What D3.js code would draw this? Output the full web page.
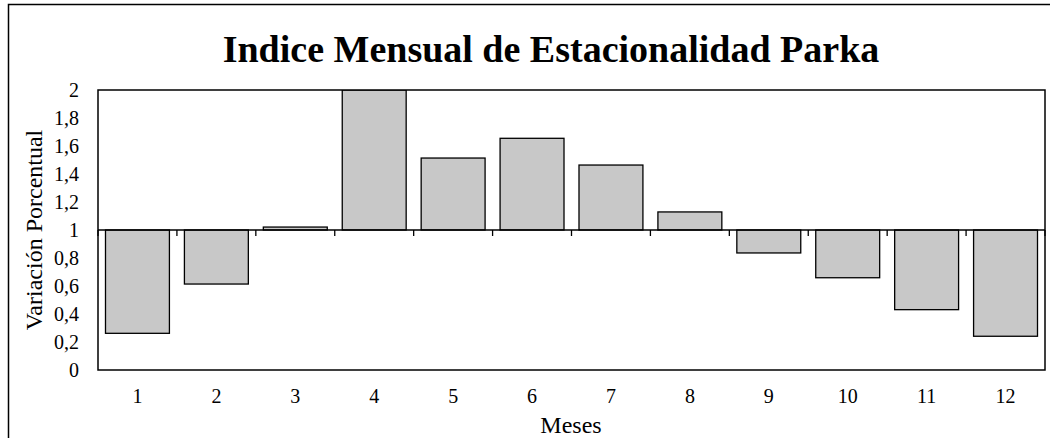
<!DOCTYPE html>
<meta charset="utf-8">
<head>
    <script src="https://d3js.org/d3.v7.min.js"></script>
    <style>
        body { margin: 0; background: #fff; }
        text { font-family: "Liberation Serif", "Times New Roman", serif; fill: #000; }
    </style>
</head>
<body>
<div id="my_dataviz"></div>
</body>

<script>

    // data
    var months = ["1", "2", "3", "4", "5", "6", "7", "8", "9", "10", "11", "12"];
    var indexValues = [0.262, 0.614, 1.021, 2.0, 1.514, 1.655, 1.464, 1.129, 0.836, 0.659, 0.431, 0.241];
    var yTicks = [0, 0.2, 0.4, 0.6, 0.8, 1, 1.2, 1.4, 1.6, 1.8, 2];
    var baseValue = 1;

    var W = 1050, H = 438;
    var margin = {top: 90, right: 5, bottom: 68, left: 98},
        width = 1045 - margin.left,
        height = 370 - margin.top;

    var root = d3.select("#my_dataviz")
        .append("svg")
        .attr("width", W)
        .attr("height", H);

    // outer chart frame (runs off the picture at right and bottom)
    root.append("rect")
        .attr("x", 8.5).attr("y", 4.5)
        .attr("width", 1060).attr("height", 460)
        .attr("fill", "none")
        .attr("stroke", "#000")
        .attr("stroke-width", 1.5);

    root.append("text")
        .attr("x", 551)
        .attr("y", 62)
        .attr("text-anchor", "middle")
        .style("font-size", "38px")
        .style("font-weight", "bold")
        .text("Indice Mensual de Estacionalidad Parka");

    var svg = root.append("g")
        .attr("transform", "translate(" + margin.left + "," + margin.top + ")");

    var x = d3.scaleBand()
        .domain(months)
        .range([0, width])
        .paddingInner(0.19)
        .paddingOuter(0.095);

    var y = d3.scaleLinear()
        .domain([0, 2])
        .range([height, 0]);

    // bars hang from the 1 line
    svg.append("defs").append("clipPath")
        .attr("id", "plotclip")
        .append("rect")
        .attr("width", width).attr("height", height);

    svg.append("g")
        .attr("clip-path", "url(#plotclip)")
        .selectAll("rect")
        .data(indexValues)
        .enter().append("rect")
        .attr("x", function(d, i) { return x(months[i]); })
        .attr("y", function(d) { return y(Math.max(d, baseValue)); })
        .attr("width", x.bandwidth())
        .attr("height", function(d) { return Math.abs(y(d) - y(baseValue)); })
        .attr("fill", "#c8c8c8")
        .attr("stroke", "#000")
        .attr("stroke-width", 1.3);

    // plot border
    svg.append("rect")
        .attr("width", width).attr("height", height)
        .attr("fill", "none")
        .attr("stroke", "#000")
        .attr("stroke-width", 1.5);

    // category axis crossing at 1
    var boundaries = d3.range(months.length + 1).map(function(i) { return i * width / months.length; });
    svg.append("line")
        .attr("x1", 0).attr("x2", width)
        .attr("y1", y(baseValue)).attr("y2", y(baseValue))
        .attr("stroke", "#000")
        .attr("stroke-width", 1.5);
    svg.append("g")
        .selectAll("line")
        .data(boundaries)
        .enter().append("line")
        .attr("x1", function(d) { return d; })
        .attr("x2", function(d) { return d; })
        .attr("y1", y(baseValue))
        .attr("y2", y(baseValue) + 6)
        .attr("stroke", "#000")
        .attr("stroke-width", 1.3);

    // month labels below plot
    svg.append("g")
        .selectAll("text")
        .data(months)
        .enter().append("text")
        .attr("x", function(d) { return x(d) + x.bandwidth() / 2; })
        .attr("y", height + 33)
        .attr("text-anchor", "middle")
        .style("font-size", "20px")
        .text(function(d) { return d; });

    // y labels
    var fmt = function(v) { return String(+v.toFixed(1)).replace(".", ","); };
    svg.append("g")
        .selectAll("text")
        .data(yTicks)
        .enter().append("text")
        .attr("x", -19)
        .attr("y", function(d) { return y(d) + 7; })
        .attr("text-anchor", "end")
        .style("font-size", "20px")
        .text(fmt);

    root.append("text")
        .attr("transform", "translate(42,230) rotate(-90)")
        .attr("text-anchor", "middle")
        .style("font-size", "24px")
        .text("Variación Porcentual");

    root.append("text")
        .attr("x", 571)
        .attr("y", 433)
        .attr("text-anchor", "middle")
        .style("font-size", "24px")
        .text("Meses");

</script>
